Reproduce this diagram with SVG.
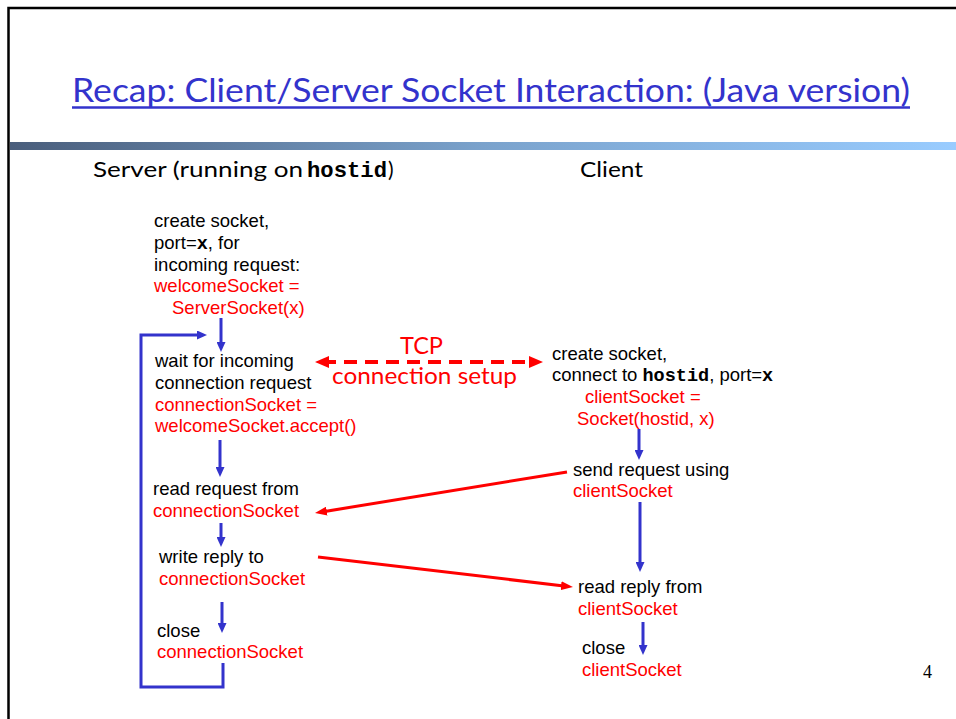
<svg xmlns="http://www.w3.org/2000/svg" width="956" height="719" viewBox="0 0 956 719">
<style>
.t{font-family:"Liberation Sans",Arial,sans-serif;font-size:18.5px;fill:#000}
.r{fill:#ff0000}
.m{font-family:"Liberation Mono","Courier New",monospace;font-weight:bold}
.c{font-family:"Comic Sans MS","Lato","DejaVu Sans",sans-serif}
.b{fill:none;stroke:#3333cc;stroke-width:3}
.rl{fill:none;stroke:#ff0000;stroke-width:3}
</style>
<defs>
<linearGradient id="bar" x1="0" y1="0" x2="1" y2="0">
<stop offset="0" stop-color="#4a5e7c"/>
<stop offset="0.5" stop-color="#7aa2cc"/>
<stop offset="1" stop-color="#99ccff"/>
</linearGradient>
<marker id="ab" markerUnits="userSpaceOnUse" markerWidth="10" markerHeight="9" refX="4" refY="4.5" orient="auto"><path d="M0,0 L10,4.5 L0,9 z" fill="#3333cc"/></marker>
<marker id="ar" markerUnits="userSpaceOnUse" markerWidth="12" markerHeight="9" refX="5" refY="4.5" orient="auto"><path d="M0,0 L12,4.5 L0,9 z" fill="#ff0000"/></marker>
<marker id="ad" markerUnits="userSpaceOnUse" markerWidth="14" markerHeight="12" refX="6" refY="6" orient="auto-start-reverse"><path d="M0,0 L14,6 L0,12 z" fill="#ff0000"/></marker>
</defs>
<rect width="956" height="719" fill="#fff"/>
<path d="M8.5 719 V8 H956" fill="none" stroke="#000" stroke-width="2.5"/>
<g id="title">
<text class="c" x="72" y="102" font-size="33" fill="#3333cc" textLength="838" lengthAdjust="spacingAndGlyphs">Recap: Client/Server Socket Interaction: (Java version)</text>
<line x1="72" y1="107.5" x2="910" y2="107.5" stroke="#3333cc" stroke-width="2.5"/>
</g>
<rect x="10" y="142" width="946" height="8" fill="url(#bar)"/>
<g id="headers">
<text class="c" x="93" y="177" font-size="21" textLength="210" lengthAdjust="spacingAndGlyphs">Server (running on</text>
<text class="m" x="307" y="177" font-size="22" textLength="80" lengthAdjust="spacingAndGlyphs">hostid</text>
<text class="c" x="388" y="177" font-size="21">)</text>
<text class="c" x="580" y="177" font-size="21" textLength="63" lengthAdjust="spacingAndGlyphs">Client</text>
</g>
<g id="connectors">
<path class="b" d="M221 318 V346" marker-end="url(#ab)"/>
<path class="b" d="M223 663 V687 H141 V335 H201" marker-end="url(#ab)"/>
<path class="b" d="M220 440 V471" marker-end="url(#ab)"/>
<path class="b" d="M221 523 V541" marker-end="url(#ab)"/>
<path class="b" d="M222 602 V627" marker-end="url(#ab)"/>
<path class="b" d="M639 429 V454" marker-end="url(#ab)"/>
<path class="b" d="M640 502 V566" marker-end="url(#ab)"/>
<path class="b" d="M643 622 V649" marker-end="url(#ab)"/>
<path class="rl" d="M567 472 L321.9 511.9" marker-end="url(#ar)"/>
<path class="rl" d="M318 557 L566 586.2" marker-end="url(#ar)"/>
<path d="M323 362 H535" fill="none" stroke="#ff0000" stroke-width="4" stroke-dasharray="13 8" marker-start="url(#ad)" marker-end="url(#ad)"/>
</g>
<g id="tcp">
<text class="c r" x="400" y="354" font-size="24" textLength="43" lengthAdjust="spacingAndGlyphs">TCP</text>
<text class="c r" x="332" y="384" font-size="24" textLength="185" lengthAdjust="spacingAndGlyphs">connection setup</text>
</g>
<g id="s-create">
<text class="t" x="154" y="227">create socket,</text>
<text class="t" x="154" y="249">port=<tspan class="m">x</tspan>, for</text>
<text class="t" x="154" y="271">incoming request:</text>
<text class="t r" x="154" y="292">welcomeSocket =</text>
<text class="t r" x="172" y="314">ServerSocket(x)</text>
</g>
<g id="s-wait">
<text class="t" x="155" y="367">wait for incoming</text>
<text class="t" x="155" y="389">connection request</text>
<text class="t r" x="155" y="411">connectionSocket =</text>
<text class="t r" x="155" y="432">welcomeSocket.accept()</text>
</g>
<g id="s-read">
<text class="t" x="153" y="495">read request from</text>
<text class="t r" x="153" y="517">connectionSocket</text>
</g>
<g id="s-write">
<text class="t" x="159" y="563">write reply to</text>
<text class="t r" x="159" y="585">connectionSocket</text>
</g>
<g id="s-close">
<text class="t" x="157" y="637">close</text>
<text class="t r" x="157" y="658">connectionSocket</text>
</g>
<g id="c-create">
<text class="t" x="552" y="360">create socket,</text>
<text class="t" x="552" y="381">connect to <tspan class="m">hostid</tspan>, port=<tspan class="m">x</tspan></text>
<text class="t r" x="585" y="403">clientSocket =</text>
<text class="t r" x="577" y="425">Socket(hostid, x)</text>
</g>
<g id="c-send">
<text class="t" x="573" y="476">send request using</text>
<text class="t r" x="573" y="497">clientSocket</text>
</g>
<g id="c-read">
<text class="t" x="578" y="593">read reply from</text>
<text class="t r" x="578" y="615">clientSocket</text>
</g>
<g id="c-close">
<text class="t" x="582" y="654">close</text>
<text class="t r" x="582" y="676">clientSocket</text>
</g>
<text x="923" y="678" font-family="Liberation Serif,Times New Roman,serif" font-size="18">4</text>
</svg>
